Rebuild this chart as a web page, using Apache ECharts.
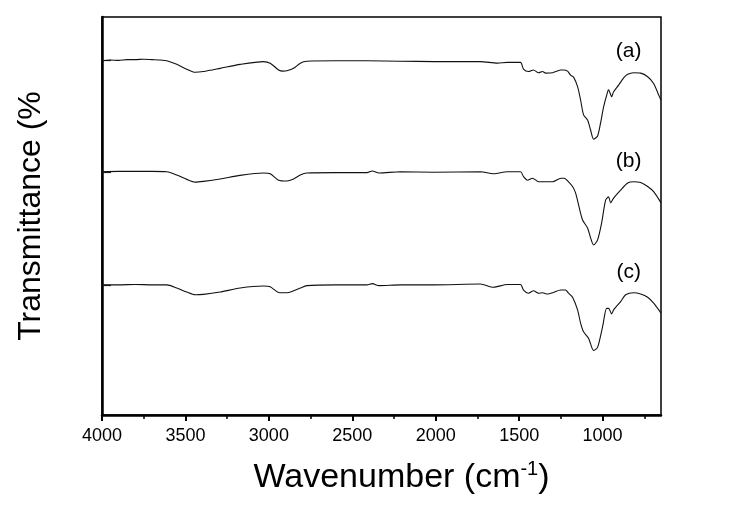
<!DOCTYPE html>
<html>
<head>
<meta charset="utf-8">
<script src="https://cdn.jsdelivr.net/npm/echarts@6/dist/echarts.min.js"></script>
<style>html,body{margin:0;padding:0;background:#fff;}#c{width:733px;height:507px;}</style>
</head>
<body>
<div id="c"></div>
<script>
// Wavenumber (cm-1) and transmittance values
var wnA = [4000,3950,3900,3850,3800,3750,3700,3650,3612,3552,3492,3442,3392,3292,3172,3032,2992,2942,2915,2892,2852,2812,2772,2600,2412,2212,2012,1732,1630,1570,1492,1474,1444,1414,1384,1360,1342,1300,1252,1234,1210,1192,1174,1150,1132,1114,1090,1072,1054,1030,1012,994,970,964,946,934,904,874,850,814,772,730,694,664,650];
var tA  = [89.0,89.2,89.1,89.3,89.3,89.4,89.3,89.2,89.0,88.1,86.9,86.1,86.3,87.1,88.1,88.8,88.4,86.7,86.4,86.5,87.1,88.4,88.9,89.0,89.0,88.9,88.8,88.8,88.4,88.6,88.6,86.9,86.3,86.7,86.0,86.3,85.9,86.0,86.7,86.7,86.4,85.4,84.9,82.5,79.2,75.4,74.1,71.6,69.3,70.1,73.4,77.4,81.2,81.7,80.0,81.2,82.9,84.7,85.6,86.0,85.9,85.0,83.3,80.4,79.1];

var wnB = [4000,3900,3800,3700,3612,3552,3492,3442,3392,3292,3172,3032,2992,2942,2892,2852,2812,2772,2600,2412,2380,2340,2212,2012,1732,1654,1570,1492,1474,1450,1420,1384,1330,1300,1250,1230,1204,1180,1162,1144,1120,1090,1072,1054,1030,1006,982,964,952,934,892,850,814,772,730,694,650];
var tB  = [61.1,61.2,61.2,61.2,61.1,60.3,59.2,58.5,58.7,59.3,60.2,60.8,60.6,59.0,58.8,59.3,60.3,60.8,60.9,60.9,61.3,60.8,61.1,61.0,61.1,60.6,61.1,61.1,59.9,59.0,59.5,58.6,58.6,58.6,59.5,59.5,58.6,57.4,55.8,52.8,49.0,47.0,44.5,42.7,44.0,48.2,54.0,54.8,53.3,54.5,56.5,58.3,58.6,58.4,57.4,56.1,53.3];

var wnC = [4000,3900,3800,3700,3612,3552,3492,3442,3392,3292,3172,3032,2992,2942,2892,2852,2812,2772,2600,2412,2380,2340,2212,2012,1732,1654,1570,1492,1474,1444,1414,1384,1360,1330,1294,1252,1222,1204,1180,1150,1132,1114,1084,1054,1030,1000,976,964,946,934,892,862,814,772,730,694,650];
var tC  = [32.7,32.7,32.8,32.7,32.7,31.9,30.9,30.2,30.3,30.9,31.9,32.4,32.2,30.8,30.7,31.2,31.9,32.5,32.7,32.7,33.0,32.5,32.7,32.7,32.9,32.1,32.8,32.8,31.4,30.6,31.2,30.6,30.7,30.4,30.8,31.4,31.4,30.6,29.6,26.4,23.1,20.9,19.3,16.2,17.0,22.2,26.8,26.8,25.4,26.4,28.5,30.2,30.7,30.4,29.6,28.1,25.6];

// Curve labels and where they sit (data units)
var labelNames = ['(a)', '(b)', '(c)'];
var labelWn = [844, 844, 844];
var labelT = [91.5, 63.8, 35.9];

// Tick values
var xMajorTicks = [1000, 1500, 2000, 2500, 3000, 3500, 4000];
var xMinorTicks = [750, 1250, 1750, 2250, 2750, 3250, 3750];
var yTicks = [32.7, 61.1, 89.2];

function zip(xs, ys) { return xs.map(function (x, i) { return [x, ys[i]]; }); }

var FONT = 'Liberation Sans, Arial, sans-serif';
var chart = echarts.init(document.getElementById('c'), null, { renderer: 'canvas' });

var lineStyle = { color: '#111', width: 1.1 };
function spec(data) {
  return { type: 'line', data: data, showSymbol: false, symbol: 'none', smooth: 0.25,
           lineStyle: lineStyle, silent: true, xAxisIndex: 0, yAxisIndex: 0 };
}

chart.setOption({
  backgroundColor: '#fff',
  animation: false,
  grid: { left: 102, right: 72, top: 17, bottom: 92, show: true, borderColor: '#000', borderWidth: 1.5, backgroundColor: 'transparent' },
  xAxis: [{
    type: 'value', inverse: true, min: 650, max: 4000,
    position: 'bottom',
    axisLine: { show: true, onZero: false, lineStyle: { color: '#000', width: 2.5 } },
    axisTick: { show: true, inside: false, length: 6, customValues: xMajorTicks, lineStyle: { color: '#000', width: 2 } },
    axisLabel: { show: true, customValues: xMajorTicks, margin: 12, color: '#000', fontFamily: FONT, fontSize: 18,
                 formatter: function (v) { return String(v); } },
    splitLine: { show: false },
    name: 'Wavenumber (cm{sup|-1}{n|)}',
    nameLocation: 'middle', nameGap: 44,
    nameTextStyle: {
      color: '#000', fontFamily: FONT, fontSize: 34, padding: [0, 0, 0, 40],
      rich: {
        sup: { fontFamily: FONT, fontSize: 20, color: '#000', verticalAlign: 'top', padding: [0, 0, 18, 0] },
        n: { fontFamily: FONT, fontSize: 34, color: '#000' }
      }
    }
  }, {
    type: 'value', inverse: true, min: 650, max: 4000,
    position: 'bottom',
    axisLine: { show: false },
    axisTick: { show: true, inside: false, length: 4, customValues: xMinorTicks, lineStyle: { color: '#000', width: 1.5 } },
    axisLabel: { show: false },
    splitLine: { show: false }
  }],
  yAxis: [{
    type: 'value', min: 0, max: 100,
    axisLine: { show: true, onZero: false, lineStyle: { color: '#000', width: 2.5 } },
    axisTick: { show: true, inside: true, length: 9, customValues: yTicks, lineStyle: { color: '#222', width: 1.2 } },
    axisLabel: { show: false },
    splitLine: { show: false },
    name: 'Transmittance (%',
    nameLocation: 'middle', nameGap: 55, nameRotate: 90,
    nameTextStyle: { color: '#000', fontFamily: FONT, fontSize: 32 }
  }],
  series: [
    spec(zip(wnA, tA)),
    spec(zip(wnB, tB)),
    spec(zip(wnC, tC)),
    {
      type: 'scatter', symbolSize: 0, silent: true,
      itemStyle: { opacity: 1 },
      data: labelNames.map(function (n, i) { return { name: n, value: [labelWn[i], labelT[i]] }; }),
      label: { show: true, position: 'inside', formatter: '{b}', color: '#000', fontFamily: FONT, fontSize: 21 }
    }
  ]
});
</script>
</body>
</html>
